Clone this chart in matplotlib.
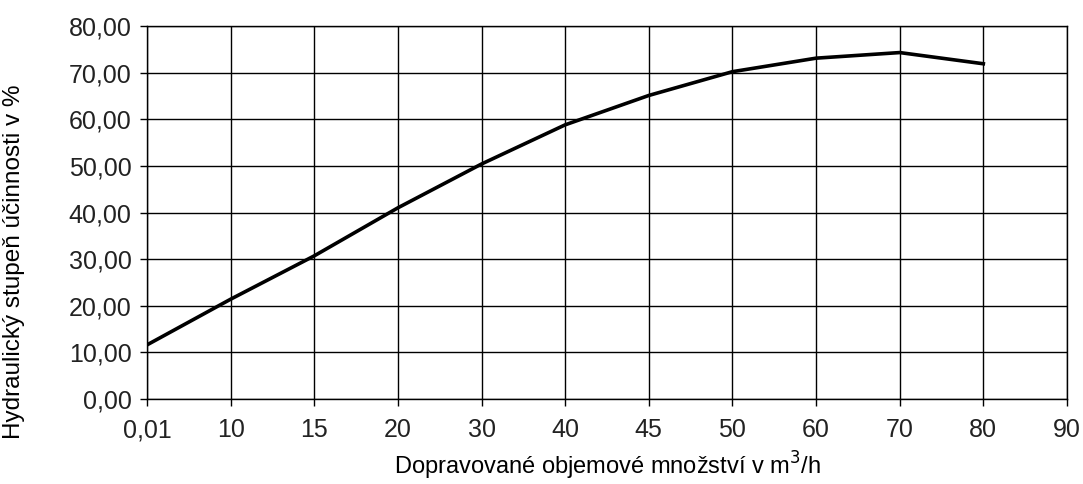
import numpy as np
import matplotlib.pyplot as plt
from matplotlib.ticker import FuncFormatter

# data (x axis is categorical)
flow_labels = ['0,01', '10', '15', '20', '30', '40', '45', '50', '60', '70', '80', '90']
efficiency = [11.6, 21.4, 30.7, 41.0, 50.4, 58.8, 65.1, 70.2, 73.1, 74.3, 71.9]

plt.rcParams['font.family'] = ['Liberation Sans', 'DejaVu Sans']

fig = plt.figure(figsize=(10.83, 4.84), dpi=100)
ax = fig.add_axes([0.1357, 0.1756, 0.8495, 0.7707])

x = np.arange(len(efficiency))
ax.plot(x, efficiency, color='black', linewidth=2.6, solid_joinstyle='round')

ax.set_xlim(0, len(flow_labels) - 1)
ax.set_ylim(0, 80)
ax.set_xticks(np.arange(len(flow_labels)))
ax.set_xticklabels(flow_labels)
ax.set_yticks(np.arange(0, 81, 10))
ax.yaxis.set_major_formatter(FuncFormatter(lambda v, p: f'{v:.2f}'.replace('.', ',')))

ax.grid(True, color='black', linewidth=1.0)
ax.set_axisbelow(True)
for s in ax.spines.values():
    s.set_color('black')
    s.set_linewidth(1.0)

ax.tick_params(axis='both', direction='out', length=5, width=1.0, colors='black',
               labelsize=18, labelcolor='#222222', pad=6)
ax.tick_params(axis='x', pad=9)

ax.set_xlabel('Dopravované objemové množství v m$^3$/h', fontsize=17, labelpad=5)
ax.set_ylabel('Hydraulický stupeň účinnosti v %', fontsize=17.5)
ax.yaxis.set_label_coords(-0.133, 0.367)

fig.savefig('out.png', dpi=100)
